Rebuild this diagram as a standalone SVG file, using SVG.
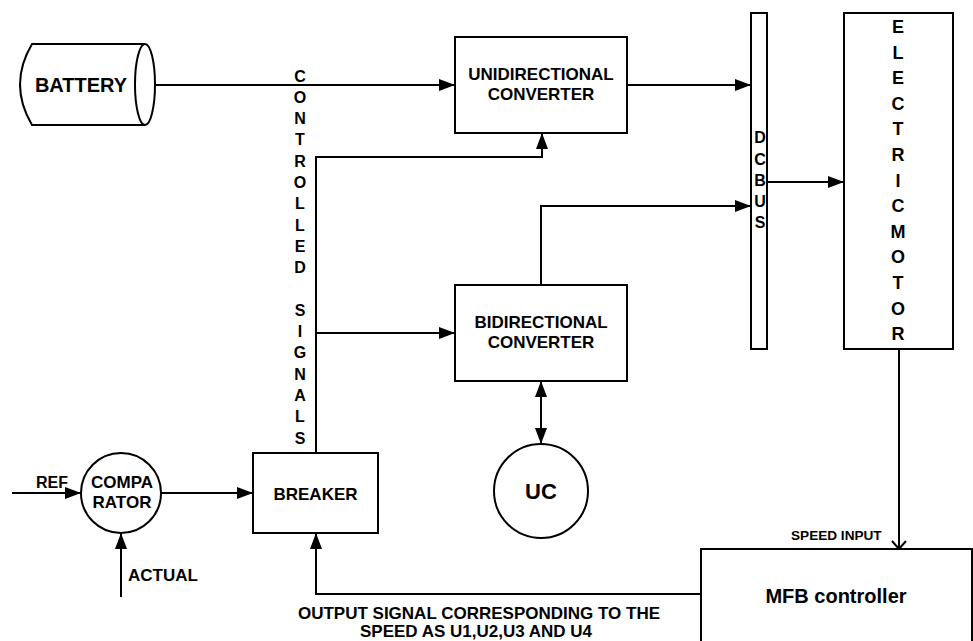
<svg xmlns="http://www.w3.org/2000/svg" width="973" height="641" viewBox="0 0 973 641">
<defs>
<style>
.s{fill:none;stroke:#000;stroke-width:2}
.b{fill:#fff;stroke:#000;stroke-width:2}
text{font-family:"Liberation Sans",Arial,sans-serif;font-weight:bold;fill:#000}
.m{text-anchor:middle}
</style>
<marker id="ah" viewBox="0 0 16 12" refX="16" refY="6" markerWidth="16" markerHeight="12" markerUnits="userSpaceOnUse" orient="auto-start-reverse">
<path d="M0,0 L16,6 L0,12 Z" fill="#000"/>
</marker>
<marker id="va" viewBox="0 0 10 16" refX="9" refY="8" markerWidth="10" markerHeight="16" markerUnits="userSpaceOnUse" orient="auto">
<path d="M1,1 L9,8 L1,15" fill="none" stroke="#000" stroke-width="2"/>
</marker>
</defs>
<rect width="973" height="641" fill="#fff"/>
<g id="connectors">
<line class="s" x1="155" y1="85" x2="455" y2="85" marker-end="url(#ah)"/>
<line class="s" x1="627" y1="85" x2="751" y2="85" marker-end="url(#ah)"/>
<line class="s" x1="767" y1="182" x2="844" y2="182" marker-end="url(#ah)"/>
<polyline class="s" points="541,285 541,206 751,206" marker-end="url(#ah)"/>
<polyline class="s" points="316,453 316,157 542,157 542,133" marker-end="url(#ah)"/>
<line class="s" x1="316" y1="333" x2="455" y2="333" marker-end="url(#ah)"/>
<line class="s" x1="541" y1="381" x2="541" y2="444" marker-start="url(#ah)" marker-end="url(#ah)"/>
<line class="s" x1="12" y1="493" x2="81" y2="493" marker-end="url(#ah)"/>
<line class="s" x1="121" y1="597" x2="121" y2="533" marker-end="url(#ah)"/>
<line class="s" x1="161" y1="493" x2="253" y2="493" marker-end="url(#ah)"/>
<polyline class="s" points="701,594 316,594 316,533" marker-end="url(#ah)"/>
<line class="s" x1="899" y1="349" x2="899" y2="549" marker-end="url(#va)"/>
</g>
<g id="battery">
<path class="b" d="M145,44 L32,44 Q8,84.5 32,125 L145,125"/>
<ellipse class="b" cx="145" cy="84.5" rx="10" ry="40.5"/>
<text class="m" x="81" y="92" font-size="20">BATTERY</text>
</g>
<g id="unidirectional">
<rect class="b" x="455" y="37" width="172" height="96"/>
<text class="m" x="541" y="80" font-size="17">UNIDIRECTIONAL</text>
<text class="m" x="541" y="100" font-size="17">CONVERTER</text>
</g>
<g id="bidirectional">
<rect class="b" x="455" y="285" width="172" height="96"/>
<text class="m" x="541" y="328" font-size="17">BIDIRECTIONAL</text>
<text class="m" x="541" y="348" font-size="17">CONVERTER</text>
</g>
<g id="dcbus">
<rect class="b" x="751" y="13" width="16" height="336"/>
<g class="m" font-size="16">
<text x="760" y="143">D</text>
<text x="760" y="164.5">C</text>
<text x="760" y="186">B</text>
<text x="760" y="207">U</text>
<text x="760" y="228">S</text>
</g>
</g>
<g id="motor">
<rect class="b" x="844" y="13" width="109" height="336"/>
<g class="m" font-size="18">
<text x="898" y="33">E</text>
<text x="898" y="58.6">L</text>
<text x="898" y="84.2">E</text>
<text x="898" y="109.8">C</text>
<text x="898" y="135.4">T</text>
<text x="898" y="161">R</text>
<text x="898" y="186.6">I</text>
<text x="898" y="212.2">C</text>
<text x="898" y="237.8">M</text>
<text x="898" y="263.4">O</text>
<text x="898" y="289">T</text>
<text x="898" y="314.6">O</text>
<text x="898" y="340.2">R</text>
</g>
</g>
<g id="controlled-signals" class="m" font-size="16">
<text x="300" y="81.5">C</text>
<text x="300" y="102.8">O</text>
<text x="300" y="124.1">N</text>
<text x="300" y="145.4">T</text>
<text x="300" y="166.7">R</text>
<text x="300" y="188">O</text>
<text x="300" y="209.3">L</text>
<text x="300" y="230.6">L</text>
<text x="300" y="251.9">E</text>
<text x="300" y="273.2">D</text>
<text x="300" y="315.8">S</text>
<text x="300" y="337.1">I</text>
<text x="300" y="358.4">G</text>
<text x="300" y="379.7">N</text>
<text x="300" y="401">A</text>
<text x="300" y="422.3">L</text>
<text x="300" y="443.6">S</text>
</g>
<g id="uc">
<circle class="b" cx="541" cy="491" r="47"/>
<text class="m" x="541" y="499" font-size="22">UC</text>
</g>
<g id="comparator">
<circle class="b" cx="121" cy="493" r="40"/>
<text class="m" x="122" y="488" font-size="17">COMPA</text>
<text class="m" x="122" y="508" font-size="17">RATOR</text>
</g>
<g id="breaker">
<rect class="b" x="253" y="453" width="125" height="80"/>
<text class="m" x="315.5" y="500" font-size="17">BREAKER</text>
</g>
<g id="mfb">
<rect class="b" x="701" y="549" width="271" height="100"/>
<text class="m" x="836" y="603" font-size="20">MFB controller</text>
</g>
<g id="labels">
<text x="36" y="488" font-size="16">REF</text>
<text x="128" y="581" font-size="17">ACTUAL</text>
<text x="791" y="540" font-size="13.6">SPEED INPUT</text>
<text class="m" x="479" y="619" font-size="17">OUTPUT SIGNAL CORRESPONDING TO THE</text>
<text class="m" x="476" y="637" font-size="17">SPEED AS U1,U2,U3 AND U4</text>
</g>
</svg>
